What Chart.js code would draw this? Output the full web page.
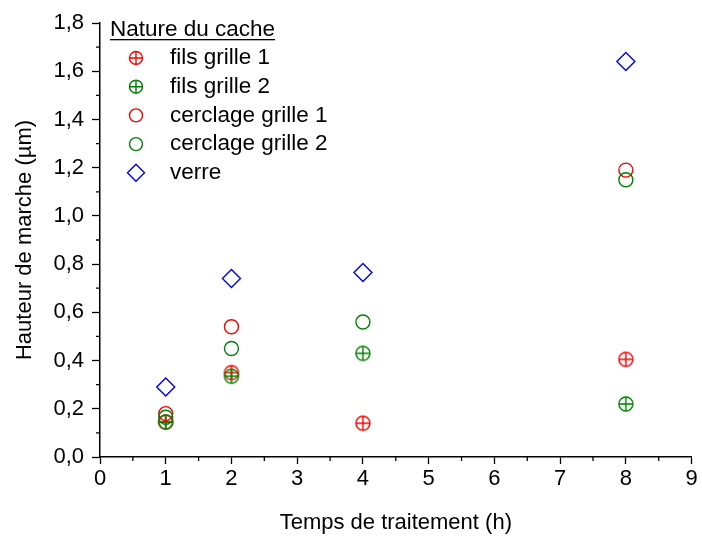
<!DOCTYPE html>
<html>
<head>
<meta charset="utf-8">
<script src="https://cdn.jsdelivr.net/npm/chart.js@4/dist/chart.umd.min.js"></script>
<style>
  html, body { margin: 0; padding: 0; background: #fff; }
  #wrap { width: 702px; height: 543px; }
</style>
</head>
<body>
<div id="wrap"><canvas id="chart-hauteur"></canvas></div>
<script>
// heures de traitement
const hours = [1, 2, 4, 8];
const filsGrille1 = [0.145, 0.35, 0.14, 0.405];
const filsGrille2 = [0.145, 0.335, 0.43, 0.22];
const cerclageGrille1 = [0.18, 0.54, null, 1.19];
const cerclageGrille2 = [0.165, 0.45, 0.56, 1.15];
const verre = [0.29, 0.74, 0.765, 1.64];

const xTicks = [0, 1, 2, 3, 4, 5, 6, 7, 8, 9];
const yTicks = [0, 0.2, 0.4, 0.6, 0.8, 1.0, 1.2, 1.4, 1.6, 1.8];

const RED = '#ff0000';
const GREEN = '#008000';
const BLUE = '#0000ff';
const FONT = "'Liberation Sans', Arial, sans-serif";

function crossedCircle(color) {
    const c = document.createElement('canvas');
    c.width = 18;
    c.height = 18;
    const g = c.getContext('2d');
    g.strokeStyle = color;
    g.lineWidth = 1.4;
    g.beginPath();
    g.arc(9, 9, 7, 0, Math.PI * 2);
    g.moveTo(2, 9); g.lineTo(16, 9);
    g.moveTo(9, 2); g.lineTo(9, 16);
    g.stroke();
    return c;
}

function toPoints(values) {
    return values.map((v, i) => ({x: hours[i], y: v}));
}

const series = [
    {label: 'fils grille 1', data: filsGrille1, color: RED, marker: 'crossed'},
    {label: 'fils grille 2', data: filsGrille2, color: GREEN, marker: 'crossed'},
    {label: 'cerclage grille 1', data: cerclageGrille1, color: RED, marker: 'circle'},
    {label: 'cerclage grille 2', data: cerclageGrille2, color: GREEN, marker: 'circle'},
    {label: 'verre', data: verre, color: BLUE, marker: 'diamond'}
];

const datasets = series.map((s, i) => ({
    label: s.label,
    data: toPoints(s.data),
    order: series.length - i,
    borderColor: s.color,
    backgroundColor: 'rgba(0,0,0,0)',
    borderWidth: 1.4,
    pointStyle: s.marker === 'crossed' ? crossedCircle(s.color) : (s.marker === 'diamond' ? 'rectRot' : 'circle'),
    pointRadius: s.marker === 'diamond' ? 9 : 7,
    pointHoverRadius: s.marker === 'diamond' ? 9 : 7,
    showLine: false
}));

function drawMarker(ctx, marker, color, x, y) {
    ctx.save();
    ctx.strokeStyle = color;
    ctx.lineWidth = 1.4;
    ctx.beginPath();
    if (marker === 'diamond') {
        const r = 8.5;
        ctx.moveTo(x, y - r); ctx.lineTo(x + r, y); ctx.lineTo(x, y + r); ctx.lineTo(x - r, y); ctx.closePath();
    } else {
        ctx.arc(x, y, 6.5, 0, Math.PI * 2);
        if (marker === 'crossed') {
            ctx.moveTo(x - 6.5, y); ctx.lineTo(x + 6.5, y);
            ctx.moveTo(x, y - 6.5); ctx.lineTo(x, y + 6.5);
        }
    }
    ctx.stroke();
    ctx.restore();
}

const legendPlugin = {
    id: 'legendInside',
    afterDraw(chart) {
        const ctx = chart.ctx;
        ctx.save();
        ctx.font = '22.5px ' + FONT;
        ctx.fillStyle = '#000';
        ctx.textBaseline = 'middle';
        const title = 'Nature du cache';
        ctx.fillText(title, 110, 30);
        const w = ctx.measureText(title).width;
        ctx.fillRect(110, 39, w, 1.3);
        series.forEach((s, i) => {
            const y = 58 + i * 28.7;
            drawMarker(ctx, s.marker, s.color, 136, y);
            ctx.fillStyle = '#000';
            ctx.fillText(s.label, 170, y);
        });
        ctx.restore();
    }
};

const minorTicksPlugin = {
    id: 'minorTicks',
    afterDraw(chart) {
        const ctx = chart.ctx;
        const xs = chart.scales.x;
        const ys = chart.scales.y;
        ctx.save();
        ctx.strokeStyle = '#000';
        ctx.lineWidth = 1.3;
        ctx.beginPath();
        for (let i = 0; i < xTicks.length - 1; i++) {
            const px = xs.getPixelForValue(xTicks[i] + 0.5);
            ctx.moveTo(px, ys.bottom);
            ctx.lineTo(px, ys.bottom + 4);
        }
        for (let i = 0; i < yTicks.length - 1; i++) {
            const py = ys.getPixelForValue(yTicks[i] + 0.1);
            ctx.moveTo(xs.left, py);
            ctx.lineTo(xs.left - 4, py);
        }
        ctx.stroke();
        ctx.restore();
    }
};

new Chart(document.getElementById('chart-hauteur'), {
    type: 'scatter',
    data: {datasets: datasets},
    plugins: [legendPlugin, minorTicksPlugin],
    options: {
        responsive: true,
        maintainAspectRatio: false,
        animation: false,
        events: [],
        layout: {padding: {top: 23, right: 3, bottom: 0, left: 0}},
        plugins: {
            legend: {display: false},
            tooltip: {enabled: false}
        },
        scales: {
            x: {
                type: 'linear',
                min: 0,
                max: 9,
                afterBuildTicks: scale => { scale.ticks = xTicks.map(v => ({value: v})); },
                afterFit: scale => {
                    scale.height = 86;
                    scale.paddingLeft = 0;
                    scale.paddingRight = 0;
                },
                border: {display: true, color: '#000', width: 1.5},
                grid: {drawOnChartArea: false, drawTicks: true, tickLength: 7, tickColor: '#000', tickWidth: 1.3},
                ticks: {color: '#000', font: {family: FONT, size: 22}, padding: 2, maxRotation: 0},
                title: {
                    display: true,
                    text: 'Temps de traitement (h)',
                    color: '#000',
                    font: {family: FONT, size: 22},
                    padding: {top: 0, bottom: 7}
                }
            },
            y: {
                type: 'linear',
                min: 0,
                max: 1.8,
                afterBuildTicks: scale => { scale.ticks = yTicks.map(v => ({value: v})); },
                afterFit: scale => { scale.width = 100; },
                border: {display: true, color: '#000', width: 1.5},
                grid: {drawOnChartArea: false, drawTicks: true, tickLength: 8, tickColor: '#000', tickWidth: 1.3},
                ticks: {
                    color: '#000',
                    font: {family: FONT, size: 22},
                    padding: 8,
                    callback: value => value.toFixed(1).replace('.', ',')
                },
                title: {
                    display: true,
                    text: 'Hauteur de marche (µm)',
                    color: '#000',
                    font: {family: FONT, size: 22},
                    padding: {top: 12, bottom: 0}
                }
            }
        }
    }
});
</script>
</body>
</html>
